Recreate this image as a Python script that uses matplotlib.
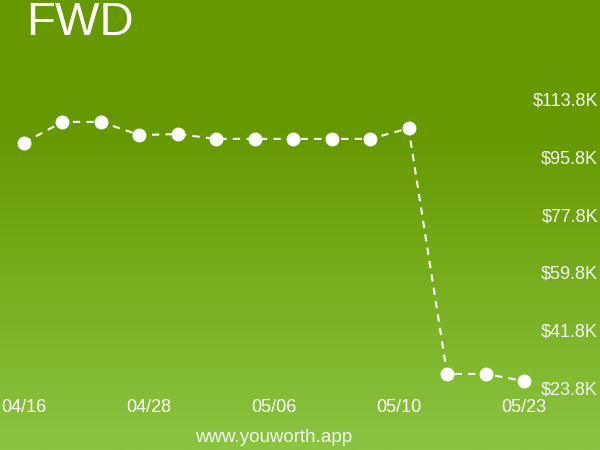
import matplotlib
matplotlib.use("Agg")
import matplotlib.pyplot as plt
import numpy as np
from matplotlib.colors import LinearSegmentedColormap

plt.rcParams['font.family'] = ['Liberation Sans', 'DejaVu Sans']

title = "FWD"
values = [100.8, 107.3, 107.3, 103.2, 103.5, 102.0, 102.0, 102.0, 102.0, 102.0, 105.3, 28.8, 28.8, 26.6]
x_tick_labels = ["04/16", "04/28", "05/06", "05/10", "05/23"]
y_ticks = [23.8, 41.8, 59.8, 77.8, 95.8, 113.8]
footer = "www.youworth.app"

fig = plt.figure(figsize=(6, 4.5), dpi=100)

# background gradient
bg = fig.add_axes([0, 0, 1, 1])
bg.set_axis_off()
cmap = LinearSegmentedColormap.from_list("g", [(0, "#669900"), (0.3, "#669900"), (1.0, "#8bc441")])
grad = np.linspace(0, 1, 256).reshape(-1, 1)
bg.imshow(grad, aspect="auto", cmap=cmap, extent=[0, 1, 0, 1], origin="upper")
bg.set_xlim(0, 1); bg.set_ylim(0, 1)

ax = fig.add_axes([0, 0, 1, 1])
ax.set_axis_off()
ax.patch.set_alpha(0)
n = len(values)
xs = np.arange(n)
px_per_idx = 500 / (n - 1)
ax.set_xlim(-24 / px_per_idx, (n - 1) + 76 / px_per_idx)
px_per_k = (390 - 101) / (113.8 - 23.8)
ax.set_ylim(113.8 - (450 - 101) / px_per_k, 113.8 + 101 / px_per_k)

ax.plot(xs, values, color="white", lw=1.5, ls=(0, (3.5, 3)), marker="o",
        markersize=9, markerfacecolor="white", markeredgecolor="white", zorder=3)

tick_pos = np.linspace(0, n - 1, len(x_tick_labels))
for p, lab in zip(tick_pos, x_tick_labels):
    ax.text(p, 1 - 407 / 450, lab, transform=ax.get_xaxis_transform(), ha="center", va="center",
            color="white", fontsize=13)

for v in y_ticks:
    ax.text(598 / 600, v, "$%.1fK" % v, transform=ax.get_yaxis_transform(), ha="right",
            va="center", color="#f4f4f4", fontsize=13)

fig.text(26 / 600, 1 - 23 / 450, title, color="white", fontsize=34, ha="left", va="center")
fig.text(274 / 600, 1 - 437 / 450, footer, color="#f4f4f4", fontsize=13.5, ha="center", va="center")

fig.savefig("out.png", dpi=100)
